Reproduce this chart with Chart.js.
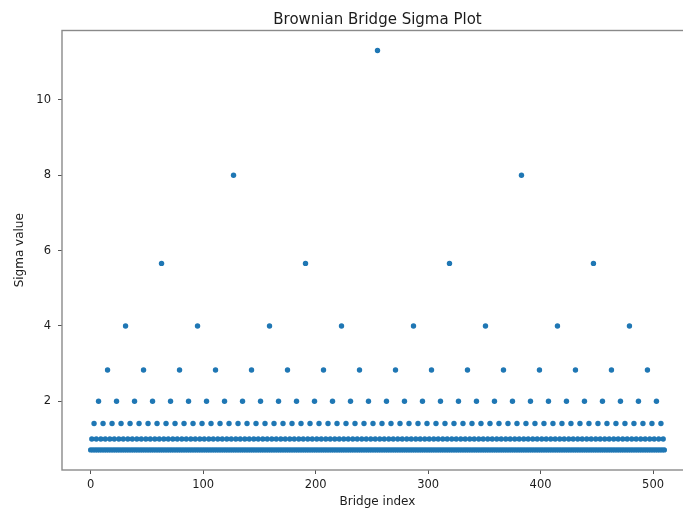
<!DOCTYPE html>
<html>
<head>
<meta charset="utf-8">
<title>Brownian Bridge Sigma Plot</title>
<script src="https://cdn.jsdelivr.net/npm/chart.js@4/dist/chart.umd.min.js"></script>
<style>
  html, body { margin: 0; padding: 0; background: #ffffff; overflow: hidden; }
  #wrap { width: 754px; height: 511px; }
</style>
</head>
<body>
<div id="wrap"><canvas id="chart" width="754" height="511"></canvas></div>
<script>
// Sigma of each bridge point, one line per block of 16 indices
const sigmaValues = [
  0.71, 1, 0.71, 1.41, 0.71, 1, 0.71, 2, 0.71, 1, 0.71, 1.41, 0.71, 1, 0.71, 2.83,
  0.71, 1, 0.71, 1.41, 0.71, 1, 0.71, 2, 0.71, 1, 0.71, 1.41, 0.71, 1, 0.71, 4,
  0.71, 1, 0.71, 1.41, 0.71, 1, 0.71, 2, 0.71, 1, 0.71, 1.41, 0.71, 1, 0.71, 2.83,
  0.71, 1, 0.71, 1.41, 0.71, 1, 0.71, 2, 0.71, 1, 0.71, 1.41, 0.71, 1, 0.71, 5.66,
  0.71, 1, 0.71, 1.41, 0.71, 1, 0.71, 2, 0.71, 1, 0.71, 1.41, 0.71, 1, 0.71, 2.83,
  0.71, 1, 0.71, 1.41, 0.71, 1, 0.71, 2, 0.71, 1, 0.71, 1.41, 0.71, 1, 0.71, 4,
  0.71, 1, 0.71, 1.41, 0.71, 1, 0.71, 2, 0.71, 1, 0.71, 1.41, 0.71, 1, 0.71, 2.83,
  0.71, 1, 0.71, 1.41, 0.71, 1, 0.71, 2, 0.71, 1, 0.71, 1.41, 0.71, 1, 0.71, 8,
  0.71, 1, 0.71, 1.41, 0.71, 1, 0.71, 2, 0.71, 1, 0.71, 1.41, 0.71, 1, 0.71, 2.83,
  0.71, 1, 0.71, 1.41, 0.71, 1, 0.71, 2, 0.71, 1, 0.71, 1.41, 0.71, 1, 0.71, 4,
  0.71, 1, 0.71, 1.41, 0.71, 1, 0.71, 2, 0.71, 1, 0.71, 1.41, 0.71, 1, 0.71, 2.83,
  0.71, 1, 0.71, 1.41, 0.71, 1, 0.71, 2, 0.71, 1, 0.71, 1.41, 0.71, 1, 0.71, 5.66,
  0.71, 1, 0.71, 1.41, 0.71, 1, 0.71, 2, 0.71, 1, 0.71, 1.41, 0.71, 1, 0.71, 2.83,
  0.71, 1, 0.71, 1.41, 0.71, 1, 0.71, 2, 0.71, 1, 0.71, 1.41, 0.71, 1, 0.71, 4,
  0.71, 1, 0.71, 1.41, 0.71, 1, 0.71, 2, 0.71, 1, 0.71, 1.41, 0.71, 1, 0.71, 2.83,
  0.71, 1, 0.71, 1.41, 0.71, 1, 0.71, 2, 0.71, 1, 0.71, 1.41, 0.71, 1, 0.71, 11.31,
  0.71, 1, 0.71, 1.41, 0.71, 1, 0.71, 2, 0.71, 1, 0.71, 1.41, 0.71, 1, 0.71, 2.83,
  0.71, 1, 0.71, 1.41, 0.71, 1, 0.71, 2, 0.71, 1, 0.71, 1.41, 0.71, 1, 0.71, 4,
  0.71, 1, 0.71, 1.41, 0.71, 1, 0.71, 2, 0.71, 1, 0.71, 1.41, 0.71, 1, 0.71, 2.83,
  0.71, 1, 0.71, 1.41, 0.71, 1, 0.71, 2, 0.71, 1, 0.71, 1.41, 0.71, 1, 0.71, 5.66,
  0.71, 1, 0.71, 1.41, 0.71, 1, 0.71, 2, 0.71, 1, 0.71, 1.41, 0.71, 1, 0.71, 2.83,
  0.71, 1, 0.71, 1.41, 0.71, 1, 0.71, 2, 0.71, 1, 0.71, 1.41, 0.71, 1, 0.71, 4,
  0.71, 1, 0.71, 1.41, 0.71, 1, 0.71, 2, 0.71, 1, 0.71, 1.41, 0.71, 1, 0.71, 2.83,
  0.71, 1, 0.71, 1.41, 0.71, 1, 0.71, 2, 0.71, 1, 0.71, 1.41, 0.71, 1, 0.71, 8,
  0.71, 1, 0.71, 1.41, 0.71, 1, 0.71, 2, 0.71, 1, 0.71, 1.41, 0.71, 1, 0.71, 2.83,
  0.71, 1, 0.71, 1.41, 0.71, 1, 0.71, 2, 0.71, 1, 0.71, 1.41, 0.71, 1, 0.71, 4,
  0.71, 1, 0.71, 1.41, 0.71, 1, 0.71, 2, 0.71, 1, 0.71, 1.41, 0.71, 1, 0.71, 2.83,
  0.71, 1, 0.71, 1.41, 0.71, 1, 0.71, 2, 0.71, 1, 0.71, 1.41, 0.71, 1, 0.71, 5.66,
  0.71, 1, 0.71, 1.41, 0.71, 1, 0.71, 2, 0.71, 1, 0.71, 1.41, 0.71, 1, 0.71, 2.83,
  0.71, 1, 0.71, 1.41, 0.71, 1, 0.71, 2, 0.71, 1, 0.71, 1.41, 0.71, 1, 0.71, 4,
  0.71, 1, 0.71, 1.41, 0.71, 1, 0.71, 2, 0.71, 1, 0.71, 1.41, 0.71, 1, 0.71, 2.83,
  0.71, 1, 0.71, 1.41, 0.71, 1, 0.71, 2, 0.71, 1, 0.71, 1.41, 0.71, 1, 0.71
];
const xTicks = [0, 100, 200, 300, 400, 500];
const yTicks = [2, 4, 6, 8, 10];
const chartTitle = 'Brownian Bridge Sigma Plot';

const points = sigmaValues.map((v, i) => ({ x: i, y: v }));

const FONT = "'DejaVu Sans', sans-serif";
const TEXT = '#1c1c1c';

// Frame around the plotting area, plus the title centred over that area
const framePlugin = {
  id: 'frame',
  afterDraw(chart) {
    const { ctx, chartArea: a } = chart;
    ctx.save();
    ctx.strokeStyle = '#8a8a8a';
    ctx.lineWidth = 1.4;
    ctx.strokeRect(a.left, a.top, a.right - a.left, a.bottom - a.top);
    ctx.fillStyle = TEXT;
    ctx.font = "15px " + FONT;
    ctx.textAlign = 'center';
    ctx.textBaseline = 'alphabetic';
    ctx.fillText(chartTitle, (a.left + a.right) / 2, a.top - 6.5);
    ctx.restore();
  }
};

new Chart(document.getElementById('chart'), {
  type: 'scatter',
  data: {
    datasets: [{
      data: points,
      backgroundColor: '#1f77b4',
      borderWidth: 0,
      pointRadius: 2.7,
      pointHoverRadius: 2.7
    }]
  },
  options: {
    responsive: false,
    animation: false,
    layout: { padding: { left: 0, right: 61, top: 30.5, bottom: 0 } },
    plugins: {
      legend: { display: false },
      tooltip: { enabled: false },
      title: { display: false }
    },
    scales: {
      x: {
        type: 'linear',
        min: -25.5,
        max: 535.5,
        afterBuildTicks: s => { s.ticks = xTicks.map(v => ({ value: v })); },
        afterFit: s => { s.height = 41; },
        border: { display: false },
        grid: { drawOnChartArea: false, drawTicks: true, tickLength: 4, color: '#555555' },
        ticks: { color: TEXT, font: { family: FONT, size: 11.5 }, padding: 4, maxRotation: 0 },
        title: {
          display: true,
          text: 'Bridge index',
          color: TEXT,
          font: { family: FONT, size: 12 },
          padding: { top: 0, bottom: 2 }
        }
      },
      y: {
        type: 'linear',
        min: 0.177,
        max: 11.84,
        afterBuildTicks: s => { s.ticks = yTicks.map(v => ({ value: v })); },
        afterFit: s => { s.width = 62; },
        border: { display: false },
        grid: { drawOnChartArea: false, drawTicks: true, tickLength: 4, color: '#555555' },
        ticks: { color: TEXT, font: { family: FONT, size: 11.5 }, padding: 7 },
        title: {
          display: true,
          text: 'Sigma value',
          color: TEXT,
          font: { family: FONT, size: 12 },
          padding: { top: 13, bottom: 0 }
        }
      }
    }
  },
  plugins: [framePlugin]
});
</script>
</body>
</html>
